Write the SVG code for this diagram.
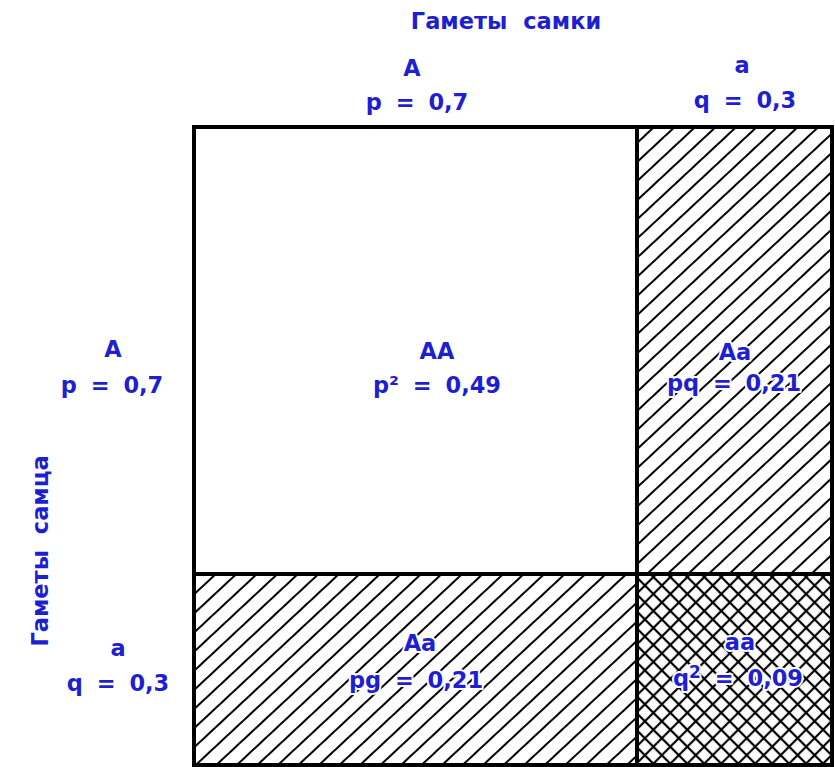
<svg xmlns="http://www.w3.org/2000/svg" width="835" height="767" viewBox="0 0 835 767">
  <style>
    .lbl { font-family: "DejaVu Sans", "Liberation Sans", sans-serif; font-weight: bold; fill: #1f1fd2; font-size: 22.5px; text-anchor: middle; }
    .cell { font-family: "DejaVu Sans", "Liberation Sans", sans-serif; font-weight: bold; fill: #1f1fd2; font-size: 22.5px; text-anchor: middle; stroke: #ffffff; stroke-width: 4px; paint-order: stroke; stroke-linejoin: round; }
    .border { fill: none; stroke: #000; stroke-width: 4; }
  </style>
  <defs>
    <pattern id="hatch" patternUnits="userSpaceOnUse" width="40" height="14" patternTransform="rotate(-43)">
      <line x1="0" y1="7" x2="40" y2="7" stroke="#000" stroke-width="2"/>
    </pattern>
    <pattern id="cross" patternUnits="userSpaceOnUse" width="12" height="12" patternTransform="rotate(45)">
      <line x1="0" y1="6" x2="12" y2="6" stroke="#000" stroke-width="2.2"/>
      <line x1="6" y1="0" x2="6" y2="12" stroke="#000" stroke-width="2.2"/>
    </pattern>
  </defs>
  <rect width="835" height="767" fill="#ffffff"/>

  <g id="header-female">
    <text class="lbl" x="506" y="29" word-spacing="8">Гаметы самки</text>
  </g>
  <g id="header-male">
    <text class="lbl" transform="translate(48,551) rotate(-90)" word-spacing="8">Гаметы самца</text>
  </g>

  <g id="col-A">
    <text class="lbl" x="412" y="76">A</text>
    <text class="lbl" x="417" y="110" word-spacing="6">p = 0,7</text>
  </g>
  <g id="col-a">
    <text class="lbl" x="742" y="73">a</text>
    <text class="lbl" x="745" y="108" word-spacing="6">q = 0,3</text>
  </g>
  <g id="row-A">
    <text class="lbl" x="113" y="357">A</text>
    <text class="lbl" x="112" y="393" word-spacing="6">p = 0,7</text>
  </g>
  <g id="row-a">
    <text class="lbl" x="118" y="656">a</text>
    <text class="lbl" x="118" y="691" word-spacing="6">q = 0,3</text>
  </g>

  <g id="cell-AA">
    <rect x="194" y="127" width="443" height="447" fill="#ffffff"/>
    <text class="cell" x="437" y="359">AA</text>
    <text class="cell" x="437" y="393" word-spacing="6">p² = 0,49</text>
  </g>
  <g id="cell-Aa-top">
    <rect x="637" y="127" width="195" height="447" fill="url(#hatch)"/>
    <text class="cell" x="735" y="360">Aa</text>
    <text class="cell" x="734" y="391" word-spacing="6">pq = 0,21</text>
  </g>
  <g id="cell-Aa-bottom">
    <rect x="194" y="574" width="443" height="191" fill="url(#hatch)"/>
    <text class="cell" x="420" y="651">Aa</text>
    <text class="cell" x="416" y="688" word-spacing="6">pg = 0,21</text>
  </g>
  <g id="cell-aa">
    <rect x="637" y="574" width="195" height="191" fill="url(#cross)"/>
    <text class="cell" x="740" y="650">aa</text>
    <text class="cell" x="738" y="686" word-spacing="6">q<tspan font-size="17" dy="-8">2</tspan><tspan dy="8"> = 0,09</tspan></text>
  </g>

  <g id="grid">
    <rect class="border" x="194" y="127" width="638" height="638"/>
    <line class="border" x1="637" y1="125" x2="637" y2="767"/>
    <line class="border" x1="192" y1="574" x2="834" y2="574"/>
  </g>
</svg>
